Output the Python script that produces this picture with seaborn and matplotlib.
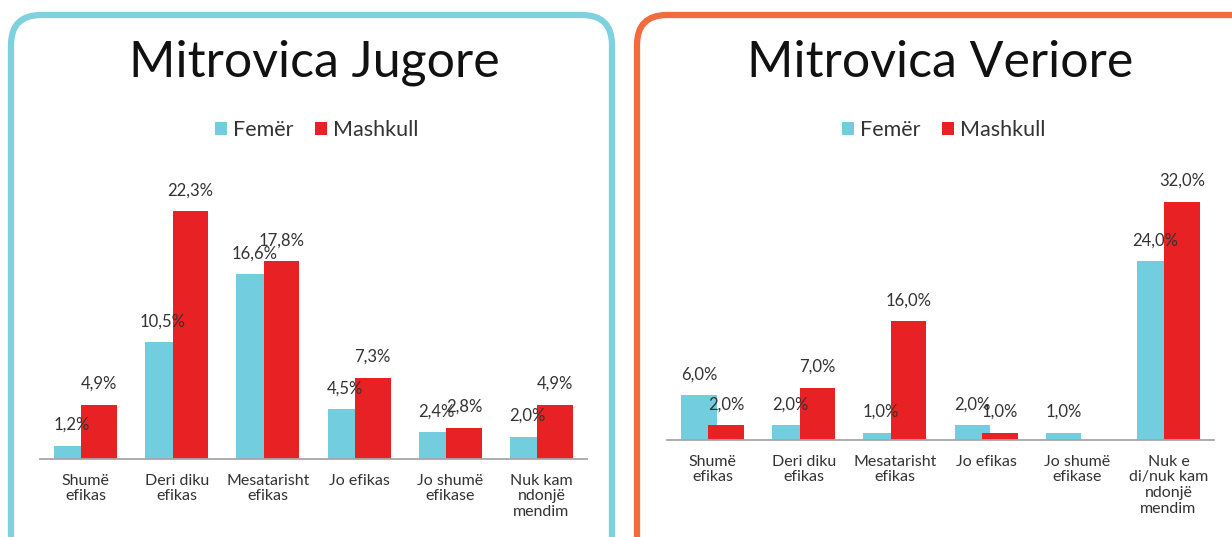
import matplotlib
matplotlib.use("Agg")
import matplotlib.pyplot as plt
import seaborn as sns
import pandas as pd
from matplotlib.patches import FancyBboxPatch, Patch

sns.set_theme(style="white")
plt.rcParams['font.family'] = ['Lato', 'DejaVu Sans']

# ---- data ----
series = ["Femër", "Mashkull"]
cats_south = ["Shumë\nefikas", "Deri diku\nefikas", "Mesatarisht\nefikas", "Jo efikas",
              "Jo shumë\nefikase", "Nuk kam\nndonjë\nmendim"]
south_fem = [1.2, 10.5, 16.6, 4.5, 2.4, 2.0]
south_mas = [4.9, 22.3, 17.8, 7.3, 2.8, 4.9]

cats_north = ["Shumë\nefikas", "Deri diku\nefikas", "Mesatarisht\nefikas", "Jo efikas",
              "Jo shumë\nefikase", "Nuk e\ndi/nuk kam\nndonjë\nmendim"]
north_fem = [6.0, 2.0, 1.0, 2.0, 1.0, 24.0]
north_mas = [2.0, 7.0, 16.0, 1.0, 0.0, 32.0]

titles = ["Mitrovica Jugore", "Mitrovica Veriore"]

C_FEM = "#72CDDF"
C_MAS = "#E82224"
TXT = "#333333"

W, H = 1232, 537
fig = plt.figure(figsize=(W / 100, H / 100), dpi=100)

# background overlay in pixel coords for rounded frames
bg = fig.add_axes([0, 0, 1, 1], zorder=0)
bg.set_xlim(0, W)
bg.set_ylim(H, 0)
bg.axis("off")
bg.add_patch(FancyBboxPatch((11, 15), 601, 560, boxstyle="round,pad=0,rounding_size=30",
                            fc="white", ec="#7FD1E0", lw=4.5))
bg.add_patch(FancyBboxPatch((637, 15), 640, 560, boxstyle="round,pad=0,rounding_size=30",
                            fc="white", ec="#F26A3D", lw=4.5))


def panel(rect, cats, fem, mas, ymax, title, tx, legx):
    ax = fig.add_axes(rect, zorder=2)
    ax.patch.set_alpha(0)
    df = pd.DataFrame({
        "cat": cats * 2,
        "val": fem + mas,
        "ser": [series[0]] * len(cats) + [series[1]] * len(cats),
    })
    sns.barplot(data=df, x="cat", y="val", hue="ser", order=cats, hue_order=series,
                palette=[C_FEM, C_MAS], width=0.6, saturation=1, ax=ax, legend=False)
    for p in ax.patches:
        cx = p.get_x() + p.get_width() / 2
        nw = 0.39
        p.set_x(cx - nw / 2)
        p.set_width(nw)
        p.set_edgecolor("none")
    for p in ax.patches:
        h = p.get_height()
        if h > 0:
            ax.annotate(f"{h:.1f}".replace(".", ",") + "%",
                        (p.get_x() + p.get_width() / 2, h),
                        xytext=(0, 15), textcoords="offset points",
                        ha="center", va="center", fontsize=12, color=TXT)
    n = len(cats)
    ax.set_xlim(-0.5, n - 0.5)
    ax.set_ylim(0, ymax)
    ax.set_xlabel("")
    ax.set_ylabel("")
    ax.set_yticks([])
    for s in ["top", "right", "left"]:
        ax.spines[s].set_visible(False)
    ax.spines["bottom"].set_color("#A6A6A6")
    ax.spines["bottom"].set_linewidth(1.3)
    ax.set_xticks(range(n))
    ax.set_xticklabels(cats, fontsize=11.5, color=TXT, linespacing=1.15)
    ax.tick_params(axis="x", which="major", length=0, pad=10.5)
    ax.set_xticks([i - 0.5 for i in range(n + 1)], minor=True)
    ax.tick_params(axis="x", which="minor", length=5, width=1.3, color="#A6A6A6")
    for lab in ax.get_xticklabels():
        lab.set_verticalalignment("top")
    fig.text(tx / W, 1 - 77 / H, title, ha="center", va="baseline", fontsize=36,
             color="#111111")
    handles = [Patch(fc=C_FEM, ec="none"), Patch(fc=C_MAS, ec="none")]
    fig.legend(handles, series, loc="center", bbox_to_anchor=(legx / W, 1 - 130 / H),
               ncol=2, frameon=False, fontsize=15.5, handlelength=0.56, handleheight=0.56,
               handletextpad=0.28, columnspacing=1.0, labelcolor=TXT,
               borderpad=0, borderaxespad=0)
    return ax


ppp_s = 11.12
ppp_n = 7.44
panel([40 / W, (H - 459) / H, 547 / W, (459 - 150) / H], cats_south, south_fem, south_mas,
      (459 - 150) / ppp_s, titles[0], 314, 317)
panel([667 / W, (H - 440) / H, 547 / W, (440 - 150) / H], cats_north, north_fem, north_mas,
      (440 - 150) / ppp_n, titles[1], 940, 944)

fig.savefig("out.png", dpi=100)
